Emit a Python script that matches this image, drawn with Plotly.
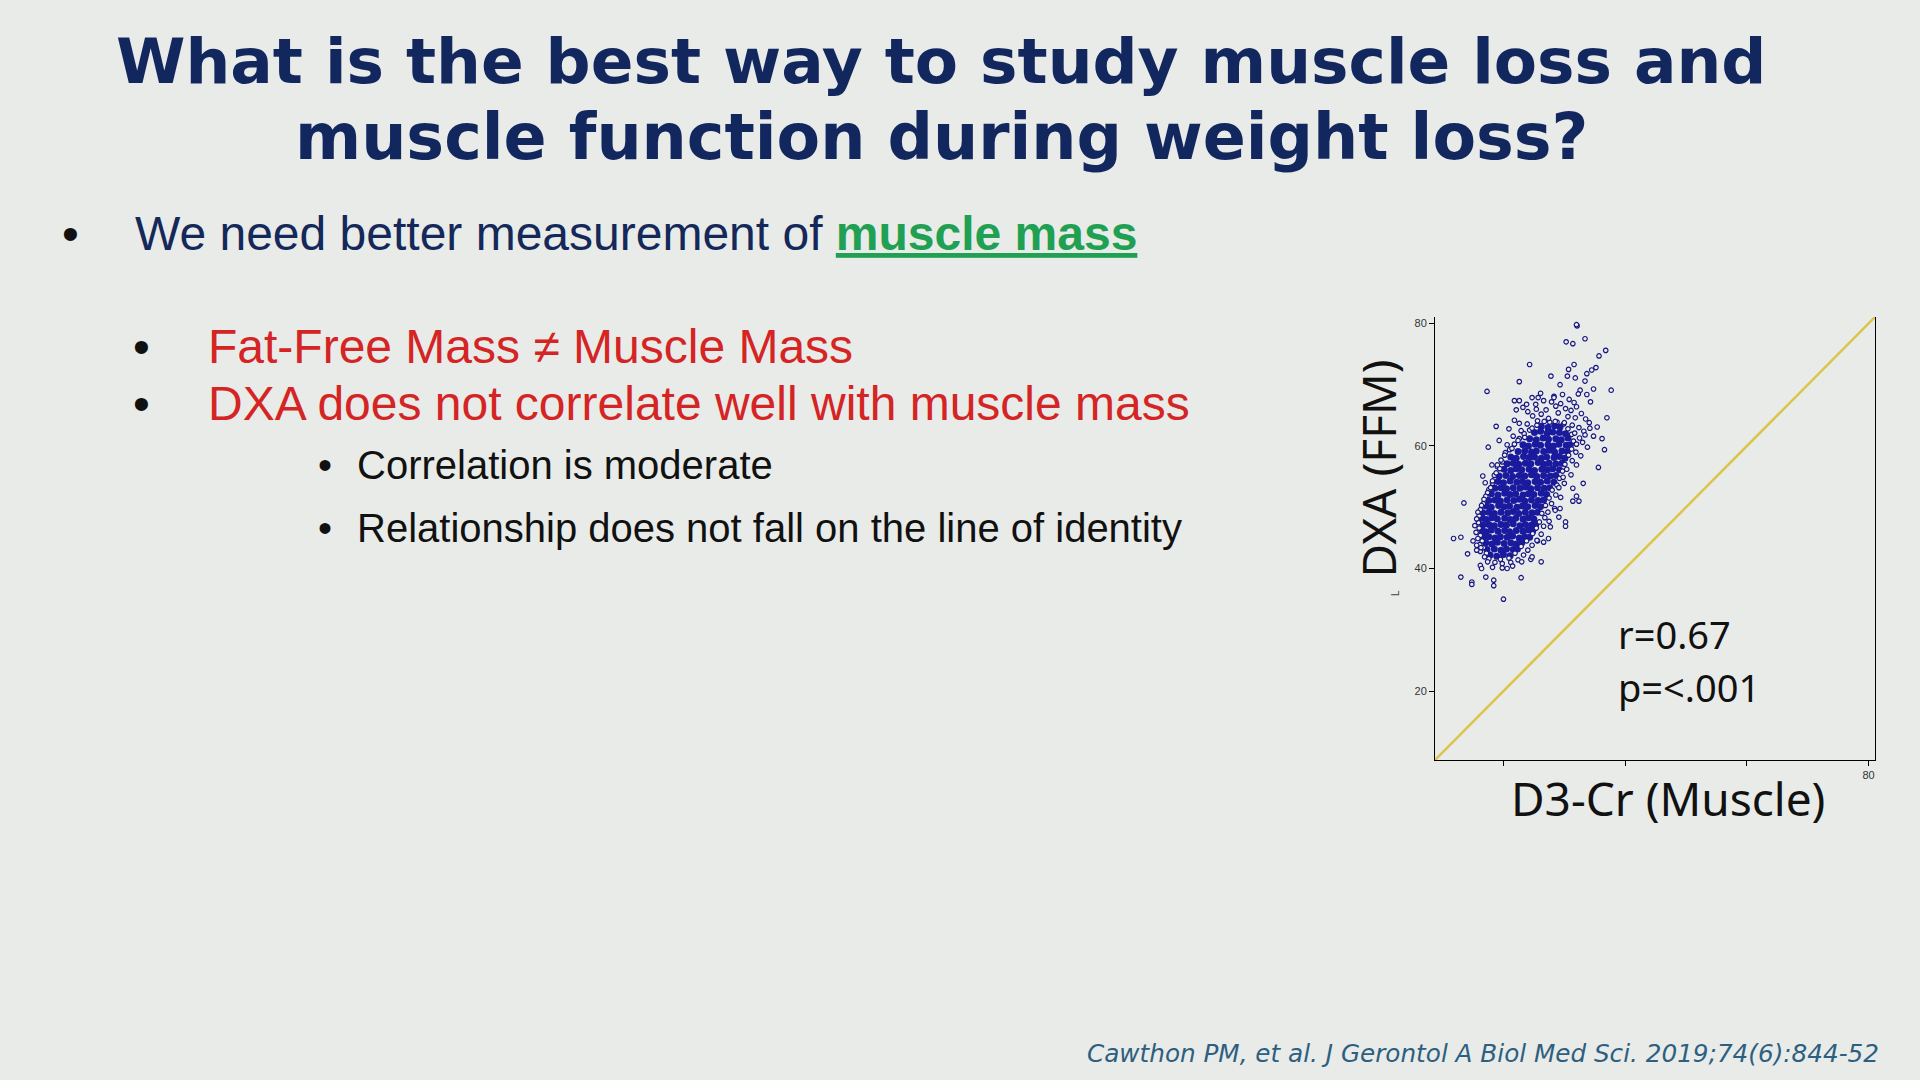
import plotly.graph_objects as go

# ---------------- data ----------------
# Dense core of the D3-Cr (x) vs DXA FFM (y) cloud, kg
dense_points = [
    (26.2,63.2),(27.3,63.0),(28.4,63.3),(29.3,63.1),
    (25.1,62.2),(26.1,62.4),(27.2,62.1),(28.1,62.3),(29.2,62.2),(30.2,62.0),
    (24.3,61.2),(25.4,61.0),(26.5,61.3),(27.4,61.1),(28.6,61.2),(29.5,61.0),(30.6,61.3),
    (23.2,60.2),(24.1,60.0),(25.2,60.3),(26.1,60.1),(27.3,60.2),(28.2,60.0),(29.1,60.3),(30.3,60.1),(31.0,60.2),
    (22.4,59.1),(23.5,59.2),(24.6,59.0),(25.4,59.2),(26.6,59.1),(27.5,59.3),(28.4,59.0),(29.6,59.2),(30.5,59.1),
    (21.2,58.2),(22.1,58.0),(23.3,58.3),(24.2,58.1),(25.1,58.2),(26.2,58.0),(27.1,58.2),(28.3,58.1),(29.2,58.3),(30.1,58.0),
    (20.6,57.1),(21.6,57.2),(22.5,57.0),(23.6,57.2),(24.5,57.1),(25.7,57.3),(26.6,57.0),(27.5,57.2),(28.6,57.1),(29.6,57.2),
    (20.1,56.2),(21.2,56.0),(22.1,56.3),(23.0,56.1),(24.2,56.2),(25.1,56.0),(26.3,56.2),(27.2,56.1),(28.1,56.3),(29.2,56.1),
    (19.3,55.1),(20.4,55.2),(21.5,55.0),(22.6,55.2),(23.5,55.1),(24.6,55.3),(25.5,55.0),(26.6,55.2),(27.7,55.1),(28.6,55.2),
    (19.1,54.2),(20.0,54.0),(21.1,54.3),(22.2,54.1),(23.1,54.2),(24.0,54.0),(25.2,54.2),(26.1,54.1),(27.2,54.3),(28.3,54.1),
    (18.6,53.1),(19.6,53.2),(20.5,53.0),(21.6,53.2),(22.7,53.1),(23.6,53.3),(24.5,53.0),(25.6,53.2),(26.7,53.1),(27.6,53.2),
    (18.0,52.2),(19.1,52.0),(20.2,52.3),(21.1,52.1),(22.0,52.2),(23.2,52.0),(24.1,52.2),(25.0,52.1),(26.2,52.3),(27.1,52.1),
    (17.6,51.1),(18.6,51.2),(19.5,51.0),(20.6,51.2),(21.7,51.1),(22.6,51.3),(23.5,51.0),(24.6,51.2),(25.7,51.1),(26.6,51.2),
    (17.1,50.2),(18.0,50.0),(19.2,50.3),(20.1,50.1),(21.0,50.2),(22.2,50.0),(23.1,50.2),(24.0,50.1),(25.2,50.3),(26.1,50.1),
    (16.6,49.1),(17.6,49.2),(18.5,49.0),(19.6,49.2),(20.7,49.1),(21.6,49.3),(22.5,49.0),(23.6,49.2),(24.7,49.1),(25.6,49.2),
    (16.5,48.2),(17.2,48.0),(18.1,48.3),(19.0,48.1),(20.2,48.2),(21.1,48.0),(22.0,48.2),(23.2,48.1),(24.1,48.3),(25.0,48.1),
    (16.6,47.1),(17.6,47.2),(18.5,47.0),(19.6,47.2),(20.5,47.1),(21.6,47.3),(22.7,47.0),(23.6,47.2),(24.6,47.1),(25.3,47.2),
    (16.5,46.2),(17.1,46.0),(18.0,46.3),(19.1,46.1),(20.2,46.2),(21.0,46.0),(22.1,46.2),(23.2,46.1),(24.1,46.3),(24.8,46.1),
    (16.7,45.1),(17.6,45.2),(18.6,45.0),(19.5,45.2),(20.6,45.1),(21.5,45.3),(22.6,45.0),(23.5,45.2),(24.3,45.1),
    (17.1,44.2),(18.1,44.0),(19.0,44.3),(20.1,44.1),(21.2,44.2),(22.1,44.0),(23.0,44.2),
    (17.3,43.1),(18.5,43.2),(19.6,43.0),(20.5,43.2),(21.6,43.1),(22.3,43.2),
    (17.8,42.2),(18.9,42.0),(20.0,42.3),(21.1,42.1),
]

# Individual (open-circle) participants around the core and outliers
sparse_points = [
    # rings sitting on the edge of the core
    (20.3,58.9),(19.8,57.4),(19.0,56.6),(18.5,55.2),(18.2,53.9),(17.6,52.9),(17.1,51.8),(16.7,50.6),
    (16.2,49.6),(16.0,48.6),(15.9,47.5),(16.0,46.6),(16.2,45.4),(16.5,44.5),(16.7,43.4),(17.2,42.5),
    (17.6,41.6),(19.5,41.5),(20.9,41.7),(21.9,42.5),(22.9,43.6),(23.8,44.5),(24.8,45.7),(25.4,46.6),
    (25.9,47.6),(26.3,49.0),(26.9,50.3),(27.5,51.5),(28.0,52.8),(28.8,53.6),(29.2,54.7),(29.7,55.9),
    (30.1,57.0),(30.7,58.5),(31.2,59.5),(31.5,60.8),(31.2,61.9),(30.6,62.8),(29.9,63.6),(28.8,63.9),
    (27.6,63.9),(26.7,64.0),(25.5,63.4),(24.3,62.6),(23.4,62.0),(22.6,61.2),(21.8,60.3),(21.0,59.4),
    # halo around the core
    (27.9,67.2),(28.6,66.5),(29.4,66.9),(30.2,66.1),(31.1,65.8),(32.0,66.4),(27.0,65.9),(26.2,65.2),
    (29.0,65.4),(30.6,64.8),(31.8,64.6),(32.8,65.3),(33.5,64.4),(24.8,64.9),(25.6,64.1),(27.4,64.5),
    (28.5,64.0),(30.0,63.8),(31.3,63.4),(32.4,63.0),(33.2,62.4),(23.9,63.6),(24.7,62.9),(22.9,62.5),
    (31.7,62.1),(32.5,61.3),(33.4,61.8),(34.2,62.9),(23.5,61.4),(22.4,60.9),(21.6,61.6),(32.0,60.3),
    (33.0,60.6),(33.8,59.8),(21.4,59.6),(20.6,60.2),(31.9,59.0),(32.7,58.4),(20.2,58.5),(19.6,57.7),
    (31.3,57.6),(32.0,56.9),(19.4,56.3),(18.8,55.6),(30.4,56.2),(31.1,55.3),(29.8,54.9),(18.2,54.3),
    (17.9,53.2),(30.0,53.9),(29.1,53.2),(17.4,52.4),(28.6,52.0),(29.4,51.6),(16.8,51.3),(16.4,50.3),
    (27.9,50.6),(28.4,49.8),(27.3,49.2),(15.8,49.2),(15.6,48.1),(26.8,48.3),(27.5,47.7),(15.3,47.0),
    (26.6,46.9),(15.5,45.9),(26.2,45.6),(15.8,44.9),(25.6,44.5),(24.7,43.8),(16.1,43.9),(24.0,43.0),
    (16.2,42.8),(23.3,42.2),(16.9,41.9),(22.4,41.4),(17.4,41.1),(18.6,41.0),(19.8,40.8),(21.2,41.0),
    (18.2,40.2),(20.6,40.0),(22.1,65.9),(23.2,66.3),(25.3,66.8),(26.6,67.4),(28.3,68.1),(29.7,68.4),
    (30.8,67.6),(31.6,67.1),(24.0,65.6),(21.8,64.2),(22.6,63.7),(34.1,63.8),(34.8,61.6),(20.9,62.8),
    # outliers
    (32.1,79.6),(32.0,79.8),(30.3,77.0),(31.4,76.7),(33.4,77.5),(36.8,75.6),(35.7,74.7),(24.3,73.3),
    (31.6,73.3),(30.7,72.5),(35.2,72.8),(34.5,72.4),(33.7,71.8),(22.6,70.5),(27.8,71.4),(30.5,71.4),
    (31.8,71.1),(33.4,70.6),(29.3,70.0),(37.7,69.1),(17.3,68.9),(34.8,69.3),(32.6,69.1),(32.3,68.5),
    (33.7,68.4),(26.1,68.6),(21.8,67.4),(22.6,67.4),(24.7,67.9),(25.7,67.9),(28.3,67.9),(23.8,66.8),
    (25.4,66.0),(34.3,67.2),(37.0,64.6),(18.8,63.2),(35.4,63.1),(19.3,60.9),(36.2,61.2),(17.5,59.8),
    (36.6,59.4),(35.6,56.5),(18.1,56.9),(19.0,56.9),(33.1,53.9),(31.4,53.1),(32.0,51.8),(31.4,51.0),
    (32.4,51.0),(30.2,47.6),(30.2,46.9),(16.6,55.1),(17.0,54.0),(13.5,50.7),(11.8,44.9),(13.0,45.1),
    (15.0,44.5),(14.1,42.4),(26.2,41.1),(24.5,41.5),(24.7,41.9),(22.9,38.5),(13.0,38.6),(14.8,37.8),
    (14.8,37.4),(17.1,38.6),(18.4,38.1),(18.4,37.2),(20.0,35.0),(16.2,40.5),(16.4,40.0),(19.8,40.1),
    (21.5,40.4),(23.0,41.1),(15.6,43.8),(16.3,43.4),(15.6,43.0),(27.4,44.9),(26.6,44.3),(25.5,44.6),
    (27.7,46.8),(29.1,48.4),(28.5,49.5),(29.3,49.8),
]

identity_line = [8.75, 81.05]          # line of identity, both axes
axis_range = [8.75, 81.05]
tick_values = [20, 40, 60, 80]
x_tick_text = ["", "", "", "80"]
y_tick_text = ["20", "40", "60", "80"]

title_lines = ["What is the best way to study muscle loss and",
               "muscle function during weight loss?"]
citation = "Cawthon PM, et al. J Gerontol A Biol Med Sci. 2019;74(6):844-52"

# ---------------- figure ----------------
BG = "#e9ebe8"
W, H = 1920, 1080


def px(x):
    return x / W


def py(y):
    return 1 - y / H


core_x = [p[0] for p in dense_points]
core_y = [p[1] for p in dense_points]
ring_x = [p[0] for p in sparse_points]
ring_y = [p[1] for p in sparse_points]

fig = go.Figure()
fig.add_trace(go.Scatter(x=identity_line, y=identity_line, mode="lines",
                         line=dict(color="#dcc54a", width=2.5), hoverinfo="skip"))
fig.add_trace(go.Scatter(x=core_x, y=core_y, mode="markers",
                         marker=dict(size=7, color="#1a1a9e", line=dict(width=0))))
fig.add_trace(go.Scatter(x=ring_x, y=ring_y, mode="markers",
                         marker=dict(size=4.5, color="#eef0ee",
                                     line=dict(color="#15157f", width=1.2))))

axis_common = dict(range=axis_range, showgrid=False, zeroline=False, showline=True,
                   linecolor="black", linewidth=1, ticks="outside", ticklen=5,
                   tickcolor="black", tickwidth=1, tickvals=tick_values,
                   tickfont=dict(family="Liberation Sans", size=11, color="#333333"))

fig.update_layout(
    width=W, height=H, margin=dict(l=0, r=0, t=0, b=0),
    paper_bgcolor=BG, plot_bgcolor=BG, showlegend=False,
    xaxis=dict(domain=[px(1435), px(1875)], ticktext=x_tick_text, **axis_common),
    yaxis=dict(domain=[py(760), py(317)], ticktext=y_tick_text, mirror=True, **axis_common),
)

ann = []


def add(text, x, y, size, color, family, xanchor="left", angle=0):
    ann.append(dict(text=text, x=px(x), y=py(y), xref="paper", yref="paper",
                    xanchor=xanchor, yanchor="middle", showarrow=False, textangle=angle,
                    font=dict(size=size, color=color, family=family)))


TITLE = "#13275f"
# title
add("<b>" + title_lines[0] + "</b>", 941, 61.5, 63, TITLE, "DejaVu Sans", "center")
add("<b>" + title_lines[1] + "</b>", 941, 136.7, 63.5, TITLE, "DejaVu Sans", "center")

# bullets
ARIAL = "Liberation Sans"
add("•", 70, 233.4, 48, "#111111", ARIAL, "center")
add("We need better measurement of "
    "<span style='color:#1fa052'><b><u>muscle mass</u></b></span>",
    133, 233.4, 48, "#14285a", ARIAL)
add("•", 141, 346.9, 48, "#111111", ARIAL, "center")
add("Fat-Free Mass ≠ Muscle Mass", 206, 346.9, 48, "#d42424", ARIAL)
add("•", 141, 403.4, 48, "#111111", ARIAL, "center")
add("DXA does not correlate well with muscle mass", 206, 403.4, 48, "#d42424", ARIAL)
add("•", 325, 465.1, 40, "#111111", ARIAL, "center")
add("Correlation is moderate", 355, 465.1, 40, "#111111", ARIAL)
add("•", 325, 528.1, 40, "#111111", ARIAL, "center")
add("Relationship does not fall on the line of identity", 355, 528.1, 40, "#111111", ARIAL)

# chart labels
NOTO = "Noto Sans"
add("DXA (FFM)", 1378, 468.5, 46, "#111111", NOTO, "center", -90)
add("D3-Cr (Muscle)", 1668, 798.2, 46, "#111111", NOTO, "center")
add("r=0.67", 1616, 634.3, 38, "#111111", NOTO)
add("p=<.001", 1616, 687.0, 38, "#111111", NOTO)
add("L", 1395, 593, 10, "#444444", ARIAL, "center", -90)

# citation
ann.append(dict(text="<i>" + citation + "</i>", x=px(1881), y=py(1053.4), xref="paper",
                yref="paper", xanchor="right", yanchor="middle", showarrow=False,
                font=dict(size=24.7, color="#2d5f80", family="DejaVu Sans")))

fig.update_layout(annotations=ann)

fig.write_html("out.html", config={"displayModeBar": False},
               post_script="document.body.style.margin='0';")
